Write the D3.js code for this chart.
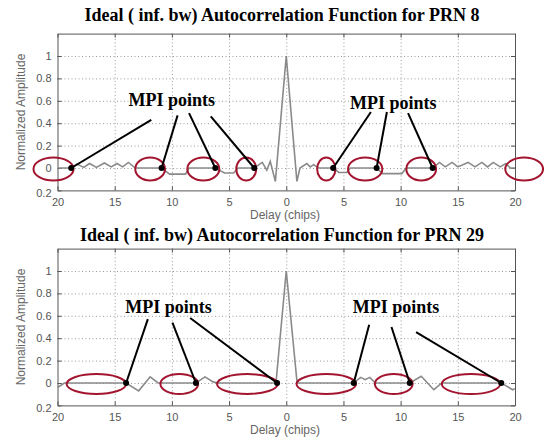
<!DOCTYPE html>
<html>
<head>
<meta charset="utf-8">
<script src="https://cdn.jsdelivr.net/npm/d3@7"></script>
<style>
  body { margin: 0; background: #fff; }
  .tick text { font-family: Arial, "Liberation Sans", sans-serif; font-size: 11px; fill: #555; }
</style>
</head>
<body>
<div id="chart"></div>
<script>
// axis ticks (the picture drops the minus signs)
const delayTicks = [-20, -15, -10, -5, 0, 5, 10, 15, 20];
const delayTickLabels = ['20', '15', '10', '5', '0', '5', '10', '15', '20'];
const ampTicks = [-0.2, 0, 0.2, 0.4, 0.6, 0.8, 1];
const ampTickLabels = ['0.2', '0', '0.2', '0.4', '0.6', '0.8', '1'];

const titles = [
  'Ideal ( inf. bw) Autocorrelation Function for PRN 8',
  'Ideal ( inf. bw) Autocorrelation Function for PRN 29'
];

// PRN 8 autocorrelation
const prn8Delay = [-20, -18.8, -18.3, -17.7, -17.2, -16.6, -15.9, -15.3, -14.8, -14.3, -13.8, -13.2,
  -10.9, -10.2, -8.8, -8.5, -6.2, -5.4, -4.6, -4.2, -2.8, -2.1, -1.7, -1.4, -0.95, 0, 0.93, 1.2,
  1.8, 2.1, 2.4, 2.8, 4.1, 4.6, 5.3, 5.6, 7.9, 8.4, 10.1, 10.5, 12.8, 13.4, 13.9, 14.5, 15.0,
  15.9, 16.5, 17.1, 17.6, 18.1, 18.7, 19.2, 19.6, 20];
const prn8Amp = [0, 0, 0.035, 0.005, 0.04, 0.005, 0.045, 0.01, 0.04, 0.01, 0.05, 0,
  0, -0.055, -0.055, 0, 0, -0.045, -0.045, 0, 0, 0.05, -0.02, 0.06, -0.12, 1, -0.12, 0,
  0.04, 0.01, 0.03, 0, 0, -0.04, -0.04, 0, 0, -0.05, -0.05, 0, 0, 0.05, 0.01, 0.05, 0.01,
  0.05, 0.01, 0.05, 0.01, 0.05, 0.01, 0.04, 0, 0];

// PRN 29 autocorrelation
const prn29Delay = [-20, -19.4, -14.0, -12.9, -11.9, -11.2, -7.9, -7.1, -6.4, -6.0, -0.9, 0, 0.95,
  5.9, 6.5, 6.9, 7.3, 7.8, 10.8, 11.8, 12.9, 13.6, 18.8, 19.8, 20];
const prn29Amp = [-0.04, 0, 0, -0.07, 0.055, 0, 0, 0.055, 0.01, 0, 0, 1, 0,
  0, 0.05, 0.03, 0.05, 0, 0, 0.06, -0.06, 0, 0, -0.06, -0.05];

// MPI annotations: ring centres / half widths (chips), dot delays, leader starts, label spots
const prn8RingCenter = [-20.35, -11.9, -7.25, -3.5, 3.5, 6.9, 11.8, 20.8];
const prn8RingHalf = [1.75, 1.3, 1.4, 0.87, 0.8, 1.5, 1.3, 1.65];
const prn8Dots = [-18.8, -10.9, -6.2, -2.8, 4.1, 7.9, 12.8];
const prn8LeadFrom = [[-11.8, 0.43], [-9.5, 0.47], [-8.5, 0.49], [-6.6, 0.46], [7.4, 0.5], [8.8, 0.5], [10.65, 0.49]];
const prn8LabelAt = [[-10.0, 0.61], [9.35, 0.58]];

const prn29RingCenter = [-16.6, -9.35, -3.4, 3.5, 9.4, 16.15];
const prn29RingHalf = [2.6, 1.65, 2.65, 2.6, 1.65, 2.55];
const prn29Dots = [-14.0, -7.9, -0.8, 5.9, 10.8, 18.8];
const prn29LeadFrom = [[-12.1, 0.57], [-9.95, 0.54], [-8.4, 0.58], [7.25, 0.52], [9.2, 0.5], [11.35, 0.455]];
const prn29LabelAt = [[-10.3, 0.68], [9.6, 0.68]];

const W = 544, H = 438;
const plotH = 156.8;

const svg = d3.select('#chart').append('svg')
  .attr('width', W)
  .attr('height', H);

const x = d3.scaleLinear().domain([-20, 20]).range([57.5, 515]);

const panels = [
  { top: 33.6, titleY: 21, title: titles[0], delay: prn8Delay, amp: prn8Amp,
    ringC: prn8RingCenter, ringH: prn8RingHalf, ry: 11.5, dots: prn8Dots, lead: prn8LeadFrom, labels: prn8LabelAt },
  { top: 248.6, titleY: 241, title: titles[1], delay: prn29Delay, amp: prn29Amp,
    ringC: prn29RingCenter, ringH: prn29RingHalf, ry: 10, dots: prn29Dots, lead: prn29LeadFrom, labels: prn29LabelAt }
];

panels.forEach(p => {
  const bottom = p.top + plotH;
  const y = d3.scaleLinear().domain([-0.2, 1.2]).range([bottom, p.top]);
  const g = svg.append('g');

  // dotted grid
  g.append('g')
    .attr('transform', 'translate(0,' + bottom + ')')
    .call(d3.axisBottom(x).tickValues(delayTicks.slice(1, -1)).tickSize(-plotH).tickFormat(''))
    .call(a => a.select('.domain').remove())
    .selectAll('line').attr('stroke', '#999').attr('stroke-dasharray', '1,2.5');
  g.append('g')
    .attr('transform', 'translate(57.5,0)')
    .call(d3.axisLeft(y).tickValues(ampTicks.slice(1)).tickSize(-(515 - 57.5)).tickFormat(''))
    .call(a => a.select('.domain').remove())
    .selectAll('line').attr('stroke', '#999').attr('stroke-dasharray', '1,2.5');

  // box axes, ticks pointing in
  g.append('g')
    .attr('transform', 'translate(0,' + bottom + ')')
    .call(d3.axisBottom(x).tickValues(delayTicks).tickSizeInner(-4).tickSizeOuter(0).tickPadding(8)
      .tickFormat((d, i) => delayTickLabels[i]));
  g.append('g')
    .attr('transform', 'translate(0,' + p.top + ')')
    .call(d3.axisTop(x).tickValues(delayTicks).tickSizeInner(-4).tickSizeOuter(0).tickFormat(''));
  const yl = g.append('g')
    .attr('transform', 'translate(57.5,0)')
    .call(d3.axisLeft(y).tickValues(ampTicks).tickSizeInner(-4).tickSizeOuter(0).tickPadding(6)
      .tickFormat((d, i) => ampTickLabels[i]));
  g.append('g')
    .attr('transform', 'translate(515,0)')
    .call(d3.axisRight(y).tickValues(ampTicks).tickSizeInner(-4).tickSizeOuter(0).tickFormat(''));
  g.selectAll('.domain').attr('stroke', '#555');
  g.selectAll('.tick line').filter(function () { return !this.getAttribute('stroke-dasharray'); })
    .attr('stroke', '#555');

  // the -0.2 label sits a bit low in the picture
  yl.selectAll('.tick text').filter(d => d === -0.2).attr('dy', '0.55em');

  // curve
  const line = d3.line().x(d => x(d[0])).y(d => y(d[1]));
  g.append('path')
    .datum(d3.zip(p.delay, p.amp))
    .attr('d', line)
    .attr('fill', 'none')
    .attr('stroke', '#8a8a8a')
    .attr('stroke-width', 1.6);

  // title and axis labels
  g.append('text')
    .attr('x', 282)
    .attr('y', p.titleY)
    .attr('text-anchor', 'middle')
    .attr('font-family', '"Liberation Serif", "Times New Roman", serif')
    .attr('font-weight', 'bold')
    .attr('font-size', '18px')
    .text(p.title);
  g.append('text')
    .attr('x', 285)
    .attr('y', bottom + 29)
    .attr('text-anchor', 'middle')
    .attr('font-family', 'Arial, "Liberation Sans", sans-serif')
    .attr('font-size', '12px')
    .attr('fill', '#666')
    .text('Delay (chips)');
  g.append('text')
    .attr('transform', 'translate(25,' + (p.top + plotH / 2) + ') rotate(-90)')
    .attr('text-anchor', 'middle')
    .attr('font-family', 'Arial, "Liberation Sans", sans-serif')
    .attr('font-size', '12px')
    .attr('fill', '#666')
    .text('Normalized Amplitude');

  // red rings
  g.selectAll('ellipse')
    .data(d3.zip(p.ringC, p.ringH))
    .enter().append('ellipse')
      .attr('cx', d => x(d[0]))
      .attr('cy', y(0) + 1)
      .attr('rx', d => x(d[0] + d[1]) - x(d[0]))
      .attr('ry', p.ry)
      .attr('fill', 'none')
      .attr('stroke', '#a3152e')
      .attr('stroke-width', 2);

  // leaders and dots
  g.selectAll('line.lead')
    .data(d3.zip(p.lead, p.dots))
    .enter().append('line')
      .attr('class', 'lead')
      .attr('x1', d => x(d[0][0]))
      .attr('y1', d => y(d[0][1]))
      .attr('x2', d => x(d[1]))
      .attr('y2', y(0))
      .attr('stroke', '#000')
      .attr('stroke-width', 2);
  g.selectAll('circle')
    .data(p.dots)
    .enter().append('circle')
      .attr('cx', d => x(d))
      .attr('cy', y(0))
      .attr('r', 3)
      .attr('fill', '#000');

  g.selectAll('text.mpi')
    .data(p.labels)
    .enter().append('text')
      .attr('class', 'mpi')
      .attr('x', d => x(d[0]))
      .attr('y', d => y(d[1]))
      .attr('dy', '0.35em')
      .attr('text-anchor', 'middle')
      .attr('font-family', '"Liberation Serif", "Times New Roman", serif')
      .attr('font-weight', 'bold')
      .attr('font-size', '18px')
      .text('MPI points');
});
</script>
</body>
</html>
